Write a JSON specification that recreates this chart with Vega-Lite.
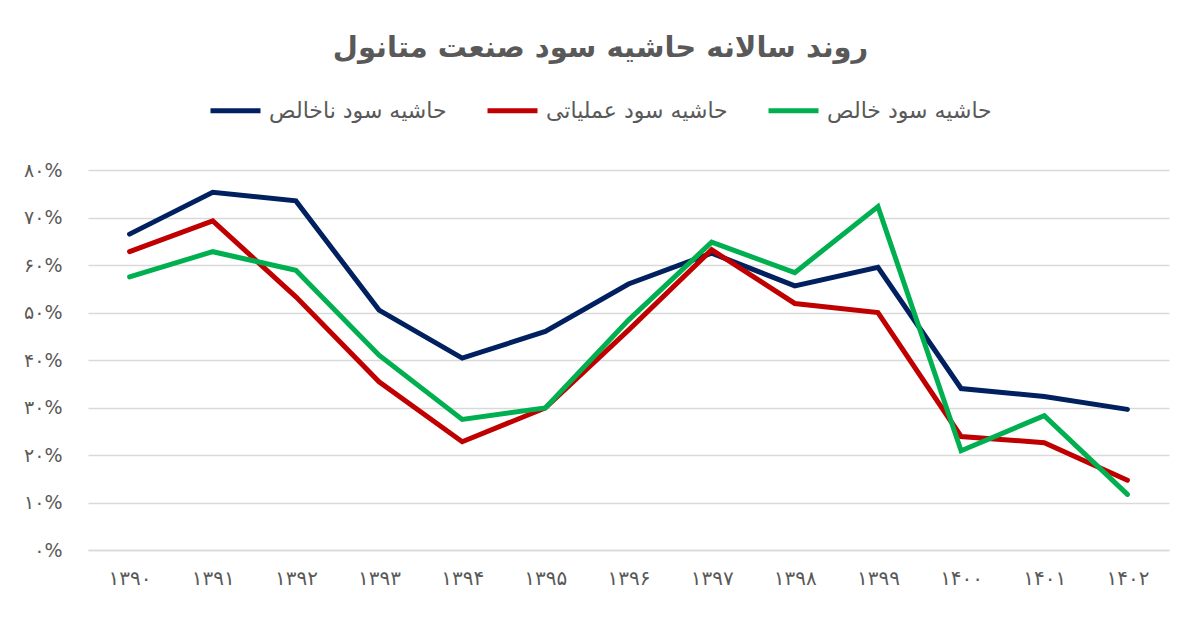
{
  "$schema": "https://vega.github.io/schema/vega-lite/v6.json",
  "width": 1081,
  "height": 380,
  "autosize": {"type": "none"},
  "padding": {"left": 88, "top": 170, "right": 31, "bottom": 82},
  "background": "white",
  "title": {
    "text": "روند سالانه حاشیه سود صنعت متانول",
    "font": "DejaVu Sans",
    "fontSize": 29,
    "fontWeight": "bold",
    "color": "#595959",
    "anchor": "middle",
    "dx": -28,
    "offset": 20
  },
  "data": {
    "values": [
      {"year": "۱۳۹۰", "series": "حاشیه سود ناخالص", "value": 0.665},
      {"year": "۱۳۹۱", "series": "حاشیه سود ناخالص", "value": 0.753},
      {"year": "۱۳۹۲", "series": "حاشیه سود ناخالص", "value": 0.735},
      {"year": "۱۳۹۳", "series": "حاشیه سود ناخالص", "value": 0.505},
      {"year": "۱۳۹۴", "series": "حاشیه سود ناخالص", "value": 0.404},
      {"year": "۱۳۹۵", "series": "حاشیه سود ناخالص", "value": 0.46},
      {"year": "۱۳۹۶", "series": "حاشیه سود ناخالص", "value": 0.56},
      {"year": "۱۳۹۷", "series": "حاشیه سود ناخالص", "value": 0.625},
      {"year": "۱۳۹۸", "series": "حاشیه سود ناخالص", "value": 0.556},
      {"year": "۱۳۹۹", "series": "حاشیه سود ناخالص", "value": 0.595},
      {"year": "۱۴۰۰", "series": "حاشیه سود ناخالص", "value": 0.34},
      {"year": "۱۴۰۱", "series": "حاشیه سود ناخالص", "value": 0.323},
      {"year": "۱۴۰۲", "series": "حاشیه سود ناخالص", "value": 0.296},
      {"year": "۱۳۹۰", "series": "حاشیه سود عملیاتی", "value": 0.628},
      {"year": "۱۳۹۱", "series": "حاشیه سود عملیاتی", "value": 0.693},
      {"year": "۱۳۹۲", "series": "حاشیه سود عملیاتی", "value": 0.533},
      {"year": "۱۳۹۳", "series": "حاشیه سود عملیاتی", "value": 0.354},
      {"year": "۱۳۹۴", "series": "حاشیه سود عملیاتی", "value": 0.228},
      {"year": "۱۳۹۵", "series": "حاشیه سود عملیاتی", "value": 0.299},
      {"year": "۱۳۹۶", "series": "حاشیه سود عملیاتی", "value": 0.463},
      {"year": "۱۳۹۷", "series": "حاشیه سود عملیاتی", "value": 0.632},
      {"year": "۱۳۹۸", "series": "حاشیه سود عملیاتی", "value": 0.519},
      {"year": "۱۳۹۹", "series": "حاشیه سود عملیاتی", "value": 0.5},
      {"year": "۱۴۰۰", "series": "حاشیه سود عملیاتی", "value": 0.239},
      {"year": "۱۴۰۱", "series": "حاشیه سود عملیاتی", "value": 0.226},
      {"year": "۱۴۰۲", "series": "حاشیه سود عملیاتی", "value": 0.147},
      {"year": "۱۳۹۰", "series": "حاشیه سود خالص", "value": 0.575},
      {"year": "۱۳۹۱", "series": "حاشیه سود خالص", "value": 0.628},
      {"year": "۱۳۹۲", "series": "حاشیه سود خالص", "value": 0.589},
      {"year": "۱۳۹۳", "series": "حاشیه سود خالص", "value": 0.41},
      {"year": "۱۳۹۴", "series": "حاشیه سود خالص", "value": 0.275},
      {"year": "۱۳۹۵", "series": "حاشیه سود خالص", "value": 0.299},
      {"year": "۱۳۹۶", "series": "حاشیه سود خالص", "value": 0.484},
      {"year": "۱۳۹۷", "series": "حاشیه سود خالص", "value": 0.648},
      {"year": "۱۳۹۸", "series": "حاشیه سود خالص", "value": 0.584},
      {"year": "۱۳۹۹", "series": "حاشیه سود خالص", "value": 0.723},
      {"year": "۱۴۰۰", "series": "حاشیه سود خالص", "value": 0.209},
      {"year": "۱۴۰۱", "series": "حاشیه سود خالص", "value": 0.283},
      {"year": "۱۴۰۲", "series": "حاشیه سود خالص", "value": 0.117}
    ]
  },
  "mark": {"type": "line", "strokeWidth": 5, "strokeJoin": "miter", "strokeCap": "round"},
  "encoding": {
    "x": {
      "field": "year",
      "type": "ordinal",
      "sort": null,
      "scale": {"type": "point", "padding": 0.5},
      "axis": {
        "title": null,
        "labelAngle": 0,
        "ticks": false,
        "domain": true,
        "domainColor": "#d9d9d9",
        "domainWidth": 1.5,
        "labelFont": "DejaVu Sans",
        "labelFontSize": 20,
        "labelColor": "#595959",
        "labelPadding": 18
      }
    },
    "y": {
      "field": "value",
      "type": "quantitative",
      "scale": {"domain": [0, 0.8], "nice": false},
      "axis": {
        "title": null,
        "values": [0, 0.1, 0.2, 0.3, 0.4, 0.5, 0.6, 0.7, 0.8],
        "labelExpr": "['۰%','۱۰%','۲۰%','۳۰%','۴۰%','۵۰%','۶۰%','۷۰%','۸۰%'][round(datum.value*10)]",
        "ticks": false,
        "domain": false,
        "grid": true,
        "gridColor": "#d9d9d9",
        "gridWidth": 1.5,
        "labelFont": "DejaVu Sans",
        "labelFontSize": 19,
        "labelColor": "#595959",
        "labelPadding": 26
      }
    },
    "color": {
      "field": "series",
      "type": "nominal",
      "scale": {
        "domain": ["حاشیه سود ناخالص", "حاشیه سود عملیاتی", "حاشیه سود خالص"],
        "range": ["#002060", "#c00000", "#00b050"]
      },
      "legend": {
        "title": null,
        "orient": "none",
        "direction": "horizontal",
        "legendX": 120,
        "legendY": -87,
        "symbolType": "stroke",
        "symbolSize": 2500,
        "symbolStrokeWidth": 5,
        "labelFont": "DejaVu Sans",
        "labelFontSize": 22,
        "labelColor": "#595959",
        "labelLimit": 300,
        "labelOffset": 6,
        "columnPadding": 30
      }
    }
  },
  "config": {
    "view": {"stroke": null}
  }
}
